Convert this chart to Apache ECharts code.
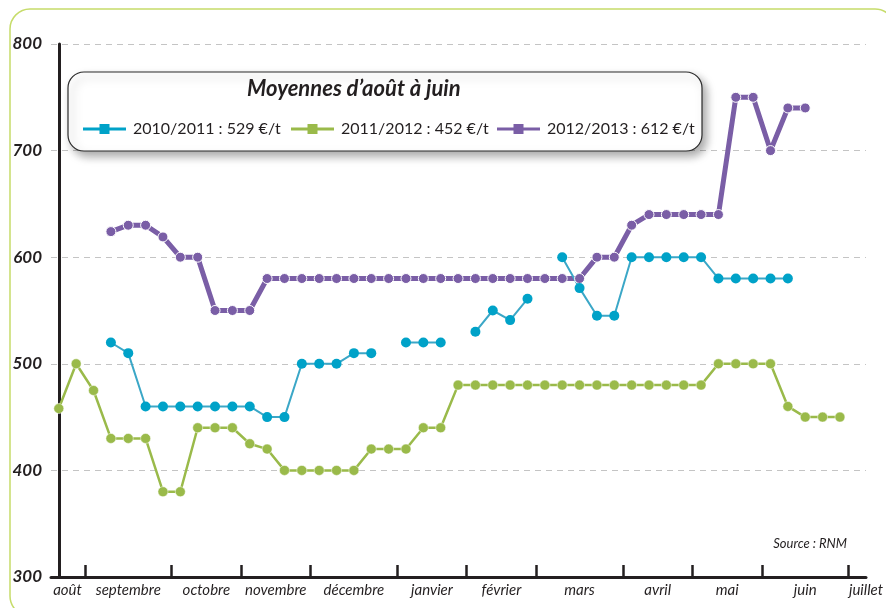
<!DOCTYPE html>
<html>
<head>
<meta charset="utf-8">
<script src="https://cdn.jsdelivr.net/npm/echarts@6/dist/echarts.min.js"></script>
<style>
html,body{margin:0;padding:0;background:#fff;}
#chart{width:886px;height:608px;}
</style>
</head>
<body>
<div id="chart"></div>
<script>
// prix hebdo, index 0 = 1re semaine d'août
var prix1011 = [null,null,null,520,510,460,460,460,460,460,460,460,450,450,500,500,500,510,510,null,
    520,520,520,null,530,550,541,561,null,600,571,545,545,600,600,600,600,600,580,580,580,580,580];
var prix1112 = [458,500,475,430,430,430,380,380,440,440,440,425,420,400,400,400,400,400,420,420,
    420,440,440,480,480,480,480,480,480,480,480,480,480,480,480,480,480,480,500,500,500,500,460,450,450,450];
var prix1213 = [null,null,null,624,630,630,619,600,600,550,550,550,580,580,580,580,580,580,580,580,
    580,580,580,580,580,580,580,580,580,580,580,600,600,630,640,640,640,640,640,750,750,700,740,740];

var series_names = ['2010/2011 : 529 €/t', '2011/2012 : 452 €/t', '2012/2013 : 612 €/t'];

// axe des mois (en semaines)
var mois = ['août','septembre','octobre','novembre','décembre','janvier','février','mars','avril','mai','juin','juillet'];
var moisCentre = [0.5,4,8.5,12.5,17,21.5,25.5,30,34.5,38.5,43,46.5];
var moisLimite = [1.5,6.5,10.5,14.5,19.5,23.5,27.5,32.5,36.5,40.5,45.5];

function toPoints(arr) {
    var res = [];
    for (var i = 0; i < arr.length; i++) {
        res.push([i, arr[i]]);
    }
    return res;
}

var legendIcon = 'path://M0,3.5H16.5V0H26.5V3.5H43V6.5H26.5V10H16.5V6.5H0Z';
var font = 'Lato, "Open Sans", sans-serif';

// une légende par série, placée à la main
function legendAt(name, left) {
    return {
        left: left,
        top: 116,
        z: 10,
        itemWidth: 43,
        itemHeight: 10,
        itemGap: 0,
        itemStyle: {borderWidth: 0},
        data: [{name: name, icon: legendIcon}],
        textStyle: {fontFamily: font, fontSize: 16, color: '#231f20', padding: [0, 0, 0, 2]}
    };
}

var myChart = echarts.init(document.getElementById('chart'));
var option = {
    animation: false,
    textStyle: {fontFamily: font},
    grid: {left: 51, right: 16, top: 44, bottom: 31},
    title: {
        text: 'Moyennes d’août à juin',
        left: 247,
        top: 78,
        padding: 0,
        z: 10,
        textStyle: {fontFamily: font, fontSize: 22, fontWeight: 'bold', fontStyle: 'italic', color: '#231f20'}
    },
    legend: [
        legendAt(series_names[0], 78),
        legendAt(series_names[1], 286),
        legendAt(series_names[2], 492)
    ],
    graphic: [
        {
            type: 'rect', z: 0, silent: true,
            shape: {x: 10, y: 9, width: 885, height: 607, r: 20},
            style: {fill: 'none', stroke: '#c6dc6a', lineWidth: 1.5}
        },
        {
            type: 'rect', z: 5, silent: true,
            shape: {x: 68, y: 72, width: 634, height: 79, r: 16},
            style: {fill: '#fff', stroke: '#2b2b2b', lineWidth: 1.2,
                shadowBlur: 10, shadowColor: 'rgba(0,0,0,0.35)', shadowOffsetX: 4, shadowOffsetY: 5}
        },
        {
            type: 'text', z: 10, silent: true,
            x: 847, y: 544,
            style: {text: 'Source : RNM', fill: '#231f20', font: 'italic 13px ' + font,
                align: 'right', verticalAlign: 'middle'}
        }
    ],
    xAxis: {
        type: 'value',
        min: -0.45,
        max: 46.5,
        axisLine: {show: true, lineStyle: {color: '#231f20', width: 3}},
        axisTick: {show: true, inside: true, length: 12, customValues: moisLimite,
            lineStyle: {color: '#231f20', width: 2.5}},
        splitLine: {show: false},
        axisLabel: {
            customValues: moisCentre,
            margin: 6,
            fontFamily: font, fontSize: 15, fontStyle: 'italic', color: '#231f20',
            formatter: function (v) {
                var k = moisCentre.indexOf(v);
                return k >= 0 ? mois[k] : '';
            }
        }
    },
    yAxis: {
        type: 'value',
        min: 300,
        max: 800,
        interval: 100,
        axisLine: {show: true, lineStyle: {color: '#231f20', width: 3}},
        axisTick: {show: false},
        splitLine: {show: true, lineStyle: {color: '#c4c4c4', width: 1, type: [6, 5]}},
        axisLabel: {margin: 9, fontFamily: font, fontSize: 17, fontWeight: 'bold', fontStyle: 'italic', color: '#231f20'}
    },
    series: [
        {
            name: series_names[2],
            type: 'line',
            data: toPoints(prix1213),
            symbol: 'circle',
            symbolSize: 10,
            lineStyle: {color: '#7a5ea6', width: 5},
            itemStyle: {color: '#7a5ea6', borderColor: '#fff', borderWidth: 1}
        },
        {
            name: series_names[1],
            type: 'line',
            data: toPoints(prix1112),
            symbol: 'circle',
            symbolSize: 10,
            lineStyle: {color: '#9aba4a', width: 2.5},
            itemStyle: {color: '#9aba4a', borderColor: '#fff', borderWidth: 0.5}
        },
        {
            name: series_names[0],
            type: 'line',
            data: toPoints(prix1011),
            symbol: 'circle',
            symbolSize: 10,
            lineStyle: {color: '#3ba7c7', width: 2},
            itemStyle: {color: '#00a2c8'}
        }
    ]
};
myChart.setOption(option);
</script>
</body>
</html>
